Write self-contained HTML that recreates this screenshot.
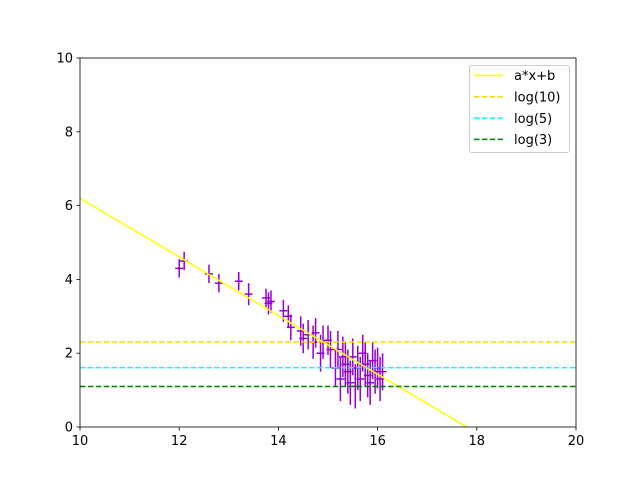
<!DOCTYPE html>
<html><head><meta charset="utf-8"><style>
body{margin:0;background:#fff;}
text{font-family:"DejaVu Sans","Liberation Sans",sans-serif;font-size:13px;fill:#000;}
</style></head><body>
<svg id="chart" width="640" height="480" xmlns="http://www.w3.org/2000/svg">
<rect x="0" y="0" width="640" height="480" fill="#fff"/>
<g id="plot"></g>
<g id="axes"></g>
<g id="legend"></g>
</svg>
<script>
const xs=[12.0,12.1,12.6,12.8,13.2,13.4,13.75,13.8,13.85,14.1,14.2,14.25,14.45,14.5,14.6,14.7,14.75,14.85,14.9,15.0,15.05,15.15,15.2,15.25,15.3,15.35,15.4,15.45,15.5,15.55,15.6,15.65,15.7,15.75,15.8,15.85,15.9,15.95,16.0,16.05,16.1];
const ys=[4.3,4.5,4.15,3.9,3.95,3.6,3.5,3.35,3.4,3.15,3.0,2.7,2.6,2.4,2.5,2.3,2.55,2.0,2.3,2.35,2.1,1.6,2.1,1.3,1.9,1.7,1.5,1.2,1.9,1.1,1.6,1.3,2.0,1.7,1.4,1.2,1.8,1.5,1.6,1.3,1.5];
const yerr=[0.25,0.25,0.25,0.25,0.25,0.3,0.25,0.3,0.3,0.3,0.3,0.35,0.4,0.4,0.4,0.45,0.4,0.5,0.45,0.4,0.5,0.5,0.5,0.6,0.55,0.6,0.6,0.6,0.5,0.6,0.6,0.6,0.5,0.6,0.6,0.6,0.5,0.6,0.55,0.6,0.5];
const xerr=0.08;
const lineA=-0.795, lineB=14.15;
const hlines=[2.3026,1.6094,1.0986];
const hcolors=["#ffd700","#00ffff","#008000"];
const legendLabels=["a*x+b","log(10)","log(5)","log(3)"];
const xTicks=[10,12,14,16,18,20];
const yTicks=[0,2,4,6,8,10];
const X0=80,X1=576,Y0=427,Y1=58;
const sx=v=>X0+(v-10)/10*(X1-X0);
const sy=v=>Y0-(v/10)*(Y0-Y1);
const NS="http://www.w3.org/2000/svg";
function mk(p,t,a){const e=document.createElementNS(NS,t);for(const k in a)e.setAttribute(k,a[k]);p.appendChild(e);return e;}
const plot=document.getElementById('plot'),axes=document.getElementById('axes'),leg=document.getElementById('legend');
mk(plot,'clipPath',{id:'clip'}).appendChild(document.createElementNS(NS,'rect'));
const cr=plot.querySelector('clipPath rect');cr.setAttribute('x',X0);cr.setAttribute('y',Y1);cr.setAttribute('width',X1-X0);cr.setAttribute('height',Y0-Y1);
const g=mk(plot,'g',{'clip-path':'url(#clip)'});
for(let i=0;i<xs.length;i++){
 const e=mk(g,'path',{d:`M${sx(xs[i])},${sy(ys[i]-yerr[i])}V${sy(ys[i]+yerr[i])}M${sx(xs[i]-xerr)},${sy(ys[i])}H${sx(xs[i]+xerr)}`,stroke:'#9400d3','stroke-width':1.5,fill:'none'});
 
 
}
const fl=mk(g,'line',{x1:sx(10),y1:sy(lineA*10+lineB),x2:sx(20),y2:sy(lineA*20+lineB),stroke:'#ffff00','stroke-width':1.5});


hlines.forEach((h,i)=>{
 const l=mk(g,'line',{x1:X0,x2:X1,y1:sy(h),y2:sy(h),stroke:hcolors[i],'stroke-width':1.5,'stroke-dasharray':'5.5,2.4'});
 
 
});
const fr=mk(axes,'rect',{x:X0,y:Y1,width:X1-X0,height:Y0-Y1,fill:'none',stroke:'#000','stroke-width':0.8});


xTicks.forEach(t=>{
 mk(axes,'line',{x1:sx(t),x2:sx(t),y1:Y0,y2:Y0+3.5,stroke:'#000','stroke-width':0.8});
 const tx=mk(axes,'text',{x:sx(t),y:Y0+18,'text-anchor':'middle'});tx.textContent=t;
 
 
});
yTicks.forEach(t=>{
 mk(axes,'line',{x1:X0-3.5,x2:X0,y1:sy(t),y2:sy(t),stroke:'#000','stroke-width':0.8});
 const tx=mk(axes,'text',{x:X0-7,y:sy(t)+4.5,'text-anchor':'end'});tx.textContent=t;
 
 
});
const lb=mk(leg,'rect',{x:469.5,y:65.5,width:100,height:87,rx:2.5,fill:'#fff','fill-opacity':0.8,stroke:'#ccc','stroke-width':1});


const lc=['#ffff00'].concat(hcolors);
legendLabels.forEach((s,i)=>{
 const y=75.5+i*21.3;
 const l=mk(leg,'line',{x1:474,x2:503,y1:y,y2:y,stroke:lc[i],'stroke-width':1.5});
 if(i>0)l.setAttribute('stroke-dasharray','5.5,2.4');
 const t=mk(leg,'text',{x:514,y:y+4.7});t.textContent=s;
 
 
});
</script>
</body></html>
